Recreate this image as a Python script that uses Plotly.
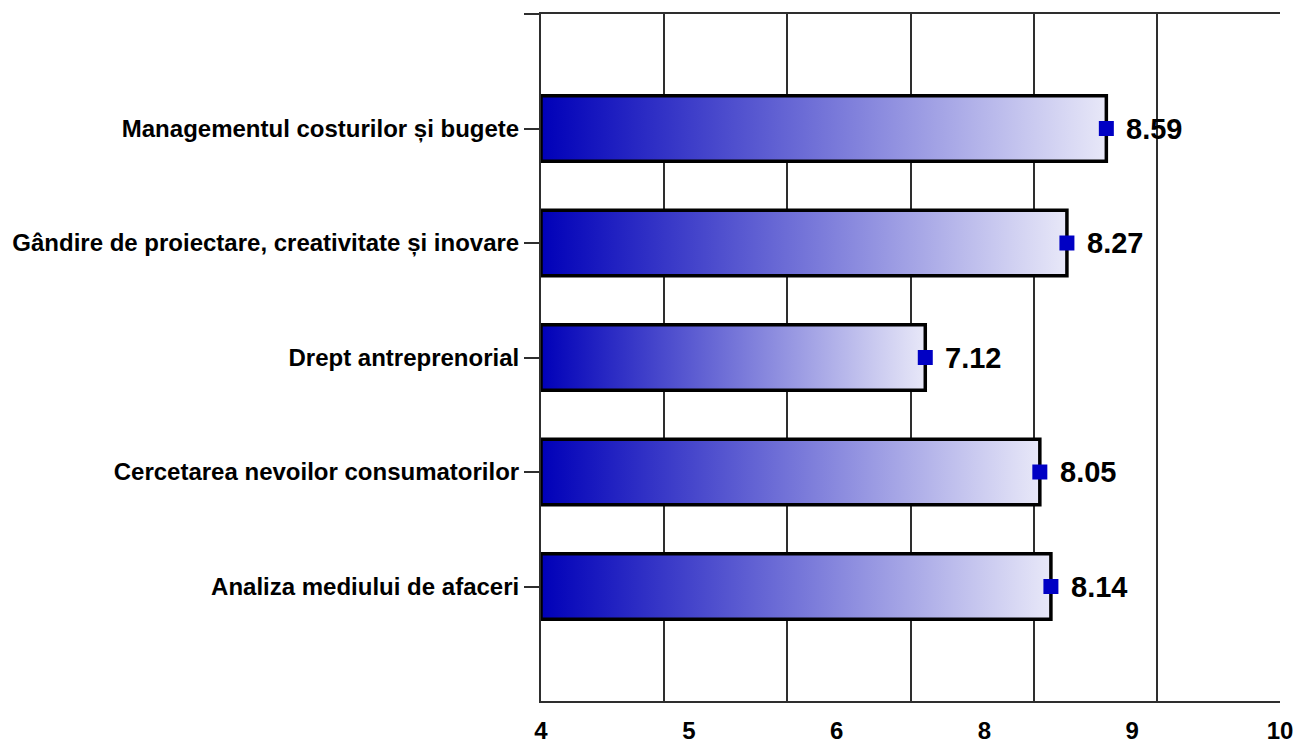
import numpy as np
import plotly.graph_objects as go

categories = [
    "Managementul costurilor și bugete",
    "Gândire de proiectare, creativitate și inovare",
    "Drept antreprenorial",
    "Cercetarea nevoilor consumatorilor",
    "Analiza mediului de afaceri",
]
values = [8.59, 8.27, 7.12, 8.05, 8.14]
x_tick_labels = ["4", "5", "6", "8", "9", "10"]
x_grid_values = [4, 5, 6, 7, 8, 9, 10]
x_min, x_max = 4, 10

BAR_HALF = 0.285
GRID_COLOR = "#2e2e2e"
FONT = "Liberation Sans, Arial, sans-serif"

fig = go.Figure()

# Gradient bars (each bar is a filled rectangle spanning from the axis start to its value)
for i, v in enumerate(values):
    fig.add_trace(go.Scatter(
        x=[x_min, v, v, x_min, x_min],
        y=[i - BAR_HALF, i - BAR_HALF, i + BAR_HALF, i + BAR_HALF, i - BAR_HALF],
        mode="lines",
        fill="toself",
        fillgradient=dict(type="horizontal",
                          colorscale=[[0, "#0000b8"], [1, "#e8e8f8"]]),
        line=dict(color="#000000", width=3.5),
        hoverinfo="skip",
        showlegend=False,
    ))

# Value markers
fig.add_trace(go.Scatter(
    x=values,
    y=list(range(len(values))),
    mode="markers",
    marker=dict(symbol="square", size=15, color="#0000c4"),
    showlegend=False,
))

for i, v in enumerate(values):
    fig.add_annotation(
        x=v, y=i, text=f"{v:.2f}", showarrow=False,
        xanchor="left", yanchor="middle", xshift=18,
        font=dict(family=FONT, size=29, color="#000000", weight="bold"),
    )

label_positions = np.linspace(x_min, x_max, len(x_tick_labels))

fig.update_xaxes(
    range=[x_min, x_max],
    tickmode="array",
    tickvals=label_positions,
    ticktext=[f"<b>{t}</b>" for t in x_tick_labels],
    ticks="",
    ticklabelstandoff=7,
    showgrid=False,
    zeroline=False,
    showline=True,
    linecolor=GRID_COLOR,
    linewidth=2,
    mirror=True,
    tickfont=dict(family=FONT, size=24, color="#000000"),
    minor=dict(tickmode="array", tickvals=x_grid_values, showgrid=True,
               gridcolor=GRID_COLOR, gridwidth=2, ticks=""),
)

fig.update_yaxes(
    range=[len(categories), -1],
    tickmode="array",
    tickvals=[-1] + list(range(len(categories))),
    ticktext=[""] + [f"<b>{c}</b>" for c in categories],
    ticks="outside",
    ticklen=15,
    tickwidth=2,
    tickcolor=GRID_COLOR,
    showgrid=False,
    zeroline=False,
    showline=True,
    linecolor=GRID_COLOR,
    linewidth=2,
    tickfont=dict(family=FONT, size=24, color="#000000"),
)

# The page body adds an 8px offset, so margins are shifted accordingly.
fig.update_layout(
    width=1309,
    height=744,
    margin=dict(l=533, r=37, t=4, b=51),
    plot_bgcolor="#ffffff",
    paper_bgcolor="#ffffff",
)

fig.write_html("out.html")
